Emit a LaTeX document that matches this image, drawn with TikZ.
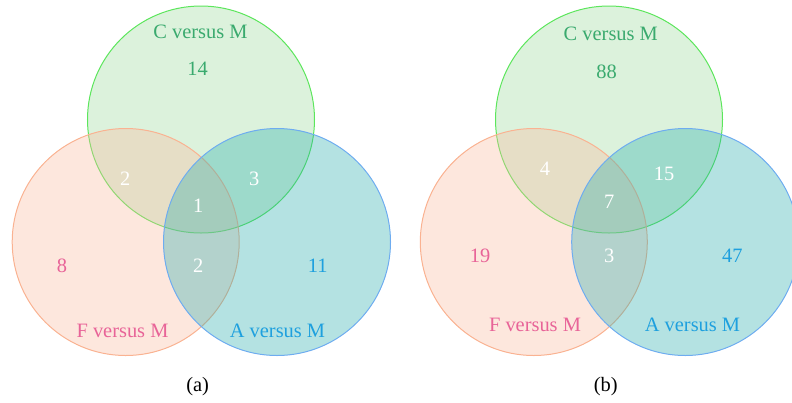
\documentclass[tikz,border=0pt]{standalone}
\usepackage{fontspec}
\setmainfont{Liberation Serif}
\usetikzlibrary{positioning}
\definecolor{cfill}{RGB}{155,218,155}
\definecolor{ffill}{RGB}{249,186,158}
\definecolor{afill}{RGB}{41,172,172}
\definecolor{cline}{RGB}{92,230,92}
\definecolor{fline}{RGB}{250,178,145}
\definecolor{aline}{RGB}{110,172,240}
\definecolor{ctext}{RGB}{58,170,110}
\definecolor{ftext}{RGB}{232,100,152}
\definecolor{atext}{RGB}{30,160,222}
\tikzset{
    vset/.style={
        circle, line width=1bp, inner sep=0pt,
        minimum size=227bp, fill opacity=0.35
    },
    cset/.style={vset, draw=cline, fill=cfill},
    fset/.style={vset, draw=fline, fill=ffill},
    aset/.style={vset, draw=aline, fill=afill},
    setname/.style={font=\fontsize{20.5}{24}\selectfont, inner sep=0pt},
    count/.style={font=\fontsize{20.5}{24}\selectfont, inner sep=0pt, text=white},
    caption/.style={font=\fontsize{20.5}{24}\selectfont, inner sep=0pt}
}

\begin{document}
\begin{tikzpicture}[x=1bp, y=-1bp]
\clip (0,0) rectangle (792,402);

% (a)
\node[cset] (Ca) at (201,119.5) {};
\node[fset] (Fa) at (125.7,242) {};
\node[aset] (Aa) at (277,242) {};

\node[setname, text=ctext] (Cna) at (200.5,31.7) {C versus M};
\node[setname, text=ftext] (Fna) at (122.5,331) {F versus M};
\node[setname, text=atext] (Ana) at (277.5,331) {A versus M};

\node[count, text=ctext] (ca) at (197.7,69) {14};
\node[count, text=ftext] (fa) at (62,265.7) {8};
\node[count, text=atext] (aa) at (317.7,265.7) {11};
\node[count] (cfa) at (125.3,179) {2};
\node[count] (caa) at (254.3,179) {3};
\node[count] (cfaa) at (198.3,205.7) {1};
\node[count] (faa) at (198.3,265.7) {2};

\node[caption] (capa) at (197.7,386.7) {(a)};

% (b)
\node[cset] (Cb) at (609,119.5) {};
\node[fset] (Fb) at (533.8,242) {};
\node[aset] (Ab) at (685.2,242) {};

\node[setname, text=ctext] (Cnb) at (610.8,34.3) {C versus M};
\node[setname, text=ftext] (Fnb) at (535,325) {F versus M};
\node[setname, text=atext] (Anb) at (692.5,325) {A versus M};

\node[count, text=ctext] (cb) at (606.7,72.3) {88};
\node[count, text=ftext] (fb) at (480,256) {19};
\node[count, text=atext] (ab) at (732.3,256) {47};
\node[count] (cfb) at (545,168.3) {4};
\node[count] (cab) at (664,174) {15};
\node[count] (cfab) at (609.3,202.3) {7};
\node[count] (fab) at (609.3,256) {3};

\node[caption] (capb) at (605.7,386.7) {(b)};

\end{tikzpicture}
\end{document}
